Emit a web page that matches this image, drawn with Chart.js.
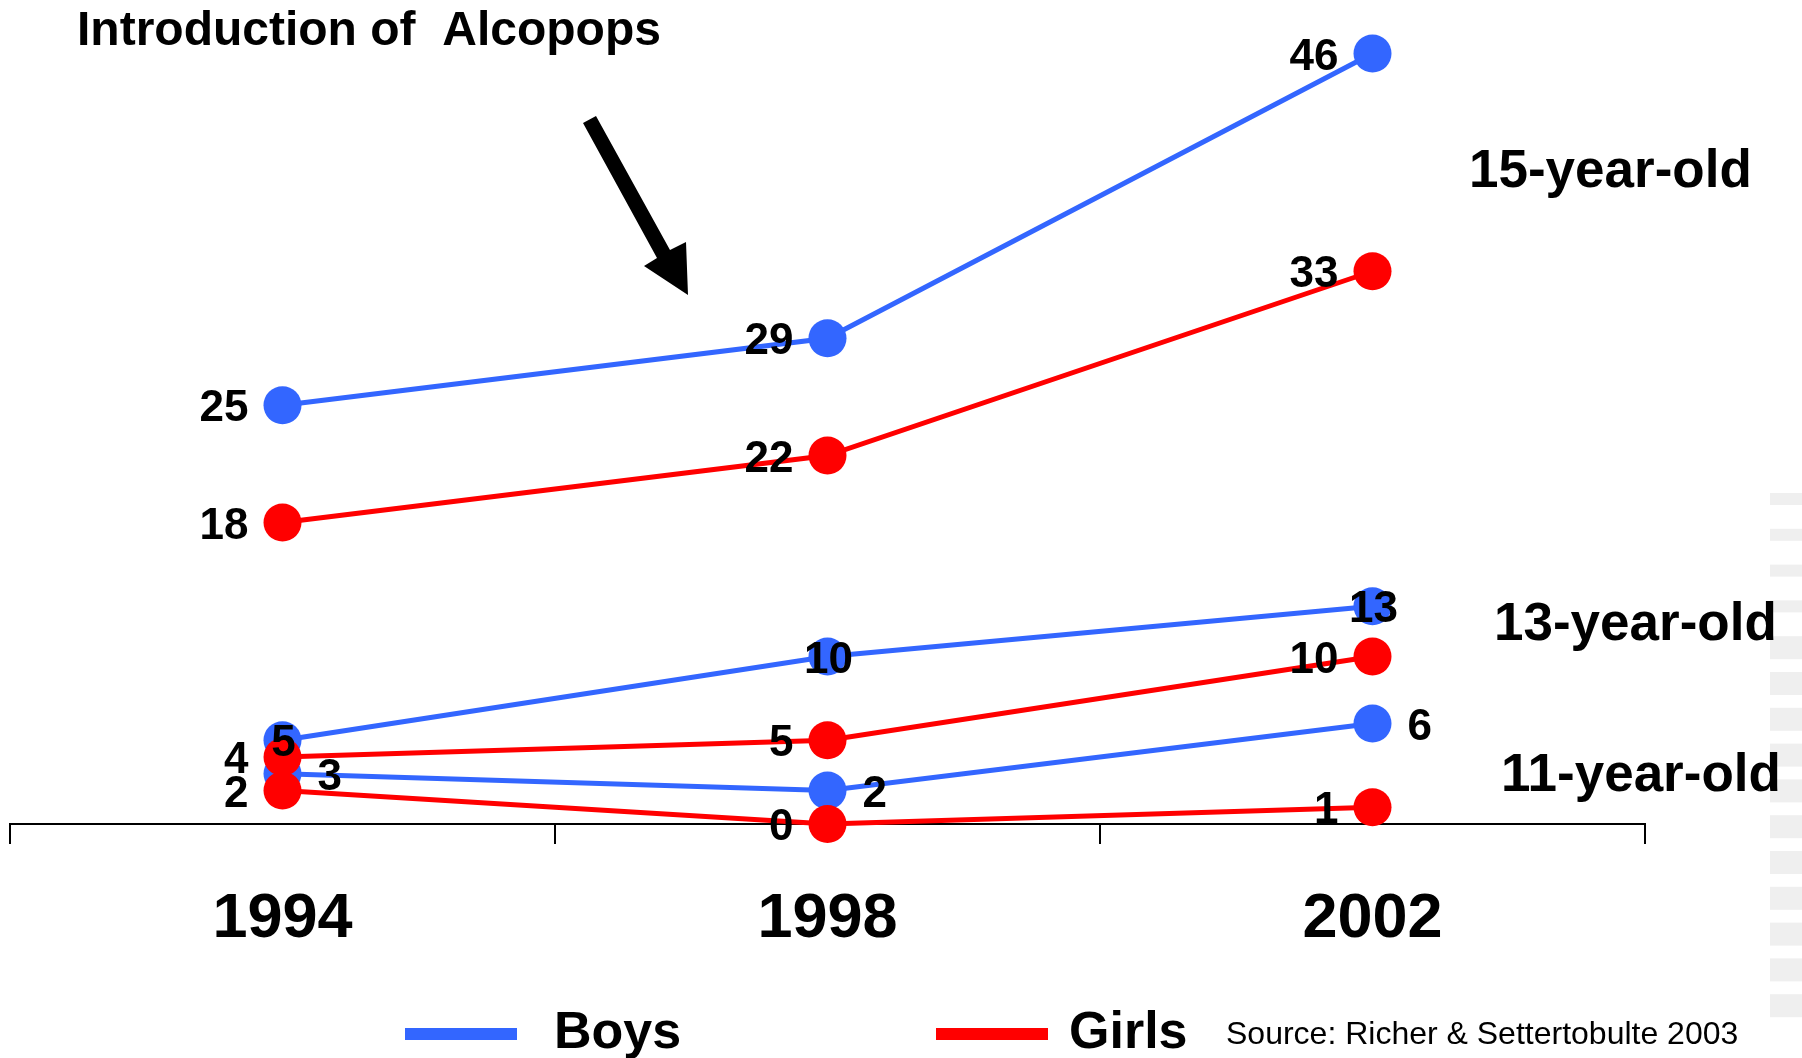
<!DOCTYPE html>
<html>
<head>
<meta charset="utf-8">
<script src="https://cdn.jsdelivr.net/npm/chart.js@4.4.1/dist/chart.umd.min.js"></script>
<style>
  html, body { margin: 0; padding: 0; background: #fff; }
  #wrap { width: 1802px; height: 1058px; position: relative; }
</style>
</head>
<body>
<div id="wrap"><canvas id="alcopops"></canvas></div>
<script>
// survey years on the x axis
const years = ["1994", "1998", "2002"];

// weekly drinking, %
const boys15 = [25, 29, 46];
const girls15 = [18, 22, 33];
const boys13 = [5, 10, 13];
const girls13 = [4, 5, 10];
const boys11 = [3, 2, 6];
const girls11 = [2, 0, 1];

const seriesNames = ["Boys", "Girls"];
const groupNames = ["15-year-old", "13-year-old", "11-year-old"];

const BLUE = "#3366ff";
const RED = "#ff0000";
const FONT = "'Liberation Sans', Arial, Helvetica, sans-serif";

function series(label, data, color, sides, order) {
    return {
        label: label,
        data: data,
        borderColor: color,
        backgroundColor: color,
        borderWidth: 5,
        pointRadius: 19,
        pointHoverRadius: 19,
        pointBorderWidth: 0,
        pointBackgroundColor: color,
        tension: 0,
        clip: false,
        order: order,
        labelSide: sides
    };
}

// value labels next to each point
const pointLabels = {
    id: "pointLabels",
    afterDatasetsDraw(chart) {
        const ctx = chart.ctx;
        ctx.save();
        ctx.font = "bold 44px " + FONT;
        ctx.fillStyle = "#000";
        ctx.textBaseline = "alphabetic";
        chart.data.datasets.forEach((ds, di) => {
            const meta = chart.getDatasetMeta(di);
            meta.data.forEach((pt, i) => {
                const side = ds.labelSide[i];
                let x = pt.x;
                if (side === "left") { ctx.textAlign = "right"; x -= 34; }
                else if (side === "right") { ctx.textAlign = "left"; x += 35; }
                else { ctx.textAlign = "center"; x += 1; }
                ctx.fillText(String(ds.data[i]), x, pt.y + 16);
            });
        });
        ctx.restore();
    }
};

// title, arrow, group names, legend, source, stripes
const decorations = {
    id: "decorations",
    beforeDraw(chart) {
        const ctx = chart.ctx;
        ctx.save();
        ctx.fillStyle = "#fff";
        ctx.fillRect(0, 0, chart.width, chart.height);
        ctx.fillStyle = "#efefef";
        for (let i = 0; i < 15; i++) {
            ctx.fillRect(1770, 493 + i * 35.8, 32, i < 4 ? 12 : 23);
        }
        ctx.restore();
    },
    afterDraw(chart) {
        const ctx = chart.ctx;
        ctx.save();
        ctx.fillStyle = "#000";
        ctx.textAlign = "left";
        ctx.textBaseline = "alphabetic";

        ctx.font = "bold 48px " + FONT;
        ctx.fillText("Introduction of  Alcopops", 77, 45);

        // arrow
        ctx.beginPath();
        ctx.moveTo(583, 123);
        ctx.lineTo(596, 116);
        ctx.lineTo(670, 250);
        ctx.lineTo(686, 242);
        ctx.lineTo(688, 295);
        ctx.lineTo(644, 266);
        ctx.lineTo(657, 258);
        ctx.closePath();
        ctx.fill();

        ctx.font = "bold 53px " + FONT;
        ctx.fillText(groupNames[0], 1469, 187);
        ctx.fillText(groupNames[1], 1494, 640);
        ctx.fillText(groupNames[2], 1501, 791);

        // legend
        ctx.fillStyle = BLUE;
        ctx.fillRect(405, 1028, 112, 12);
        ctx.fillStyle = RED;
        ctx.fillRect(936, 1028, 112, 12);
        ctx.fillStyle = "#000";
        ctx.font = "bold 52px " + FONT;
        ctx.fillText(seriesNames[0], 554, 1048);
        ctx.fillText(seriesNames[1], 1069, 1048);

        ctx.font = "32px " + FONT;
        ctx.fillText("Source: Richer & Settertobulte 2003", 1226, 1044);
        ctx.restore();
    }
};

const ctx = document.getElementById("alcopops").getContext("2d");
new Chart(ctx, {
    type: "line",
    data: {
        labels: years,
        datasets: [
            series(seriesNames[0], boys15, BLUE, ["left", "left", "left"], 1),
            series(seriesNames[1], girls15, RED, ["left", "left", "left"], 0),
            series(seriesNames[0], boys13, BLUE, ["center", "center", "center"], 1),
            series(seriesNames[1], girls13, RED, ["left", "left", "left"], 0),
            series(seriesNames[0], boys11, BLUE, ["right", "right", "right"], 1),
            series(seriesNames[1], girls11, RED, ["left", "left", "left"], 0)
        ]
    },
    options: {
        responsive: true,
        maintainAspectRatio: false,
        animation: false,
        layout: {
            autoPadding: false,
            padding: { left: 10, right: 157, top: 20, bottom: 0 }
        },
        plugins: {
            legend: { display: false },
            tooltip: { enabled: false }
        },
        scales: {
            x: {
                offset: true,
                grid: {
                    offset: true,
                    drawOnChartArea: false,
                    drawTicks: true,
                    tickLength: 20,
                    color: "#000",
                    lineWidth: 2
                },
                border: { display: true, color: "#000", width: 2 },
                ticks: {
                    color: "#000",
                    padding: 38,
                    font: { family: FONT, size: 63, weight: "bold" }
                },
                afterFit: s => { s.height = 234; }
            },
            y: {
                display: false,
                min: 0,
                max: 48
            }
        }
    },
    plugins: [decorations, pointLabels]
});
</script>
</body>
</html>
